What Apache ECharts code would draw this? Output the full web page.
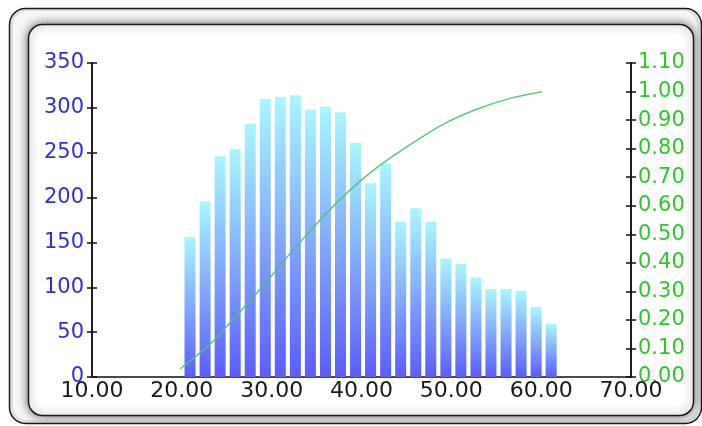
<!DOCTYPE html>
<html>
<head>
<meta charset="utf-8">
<script src="https://cdn.jsdelivr.net/npm/echarts@6/dist/echarts.min.js"></script>
<style>
html,body{margin:0;padding:0;background:#fff;}
#c{width:702px;height:426px;}
</style>
</head>
<body>
<div id="c"></div>
<script>
// Histogram bin centers (x) and counts (left axis)
var binCenters = [20.91, 22.59, 24.26, 25.94, 27.61, 29.29, 30.96, 32.64, 34.31, 35.99,
                  37.66, 39.34, 41.01, 42.69, 44.36, 46.04, 47.71, 49.39, 51.06, 52.74,
                  54.41, 56.09, 57.76, 59.44, 61.11];
var counts = [156, 196, 246, 254, 282, 310, 312, 314, 298, 301,
              295, 261, 216, 238, 173, 188, 173, 132, 126, 111,
              98, 98, 96, 78, 59];
// Cumulative curve (right axis)
var curveX = [19.80, 23.14, 25.37, 27.96, 30.19, 32.42, 35.39, 37.25, 39.84, 42.07,
              45.41, 49.12, 52.83, 56.55, 60.08];
var curveY = [0.028, 0.115, 0.190, 0.280, 0.362, 0.446, 0.550, 0.610, 0.686, 0.742,
              0.814, 0.886, 0.938, 0.976, 0.999];
// Axis ranges
var xMin = 10, xMax = 70, xStep = 10;
var yLeftMax = 350, yLeftStep = 50;
var yRightMax = 1.1, yRightStep = 0.1;

var barData = binCenters.map(function (x, i) { return [x, counts[i]]; });
var lineData = curveX.map(function (x, i) { return [x, curveY[i]]; });

var FONT = 'DejaVu Sans';
var chart = echarts.init(document.getElementById('c'), null, {renderer: 'canvas'});

function baseY(extra) {
  return Object.assign({
    type: 'value',
    splitLine: {show: false},
    axisLine: {show: true, lineStyle: {color: '#111', width: 1.5}},
    axisTick: {show: true, length: 5, lineStyle: {color: '#111', width: 1.5}}
  }, extra);
}

chart.setOption({
  animation: false,
  grid: {left: 92, right: 71, top: 63, bottom: 49, containLabel: false, outerBoundsMode: 'none'},
  graphic: [
    {type: 'rect', z: -20, silent: true,
     shape: {x: 9.5, y: 8.5, width: 692, height: 415, r: 16},
     style: {fill: '#dedede', stroke: '#1a1a1a', lineWidth: 1.5}},
    {type: 'rect', z: -19, silent: true,
     shape: {x: 13, y: 11, width: 684, height: 409, r: 14},
     style: {fill: '#f6f6f6'}},
    {type: 'rect', z: -18, silent: true,
     shape: {x: 28.5, y: 24.5, width: 665, height: 391, r: 14},
     style: {fill: '#ffffff', stroke: '#1a1a1a', lineWidth: 1.5,
             shadowBlur: 10, shadowColor: 'rgba(0,0,0,0.6)'}}
  ],
  xAxis: {
    type: 'value', min: xMin, max: xMax, interval: xStep,
    splitLine: {show: false},
    axisLine: {show: true, onZero: false, lineStyle: {color: '#111', width: 1.5}},
    axisTick: {show: false},
    axisLabel: {fontFamily: FONT, fontSize: 22, color: '#1a1a1a', margin: 3,
                formatter: function (v) { return v.toFixed(2); }}
  },
  yAxis: [
    baseY({position: 'left', min: 0, max: yLeftMax, interval: yLeftStep,
           axisLabel: {fontFamily: FONT, fontSize: 21, color: '#3030d8', margin: 8}}),
    baseY({position: 'right', min: 0, max: yRightMax, interval: yRightStep,
           axisLabel: {fontFamily: FONT, fontSize: 21, color: '#2ec82e', margin: 7,
                       formatter: function (v) { return v.toFixed(2); }}}),
    baseY({position: 'left', min: 0, max: yLeftMax, interval: yLeftStep,
           axisTick: {show: true, inside: true, length: 5, lineStyle: {color: '#111', width: 1.5}},
           axisLabel: {show: false}}),
    baseY({position: 'right', min: 0, max: yRightMax, interval: yRightStep,
           axisTick: {show: true, inside: true, length: 5, lineStyle: {color: '#111', width: 1.5}},
           axisLabel: {show: false}})
  ],
  series: [
    {
      type: 'bar', xAxisIndex: 0, yAxisIndex: 0, data: barData, barWidth: 11,
      itemStyle: {
        color: new echarts.graphic.LinearGradient(0, 0, 0, 1, [
          {offset: 0, color: '#aaf6fd'},
          {offset: 1, color: '#5c5cfb'}
        ])
      }
    },
    {
      type: 'line', xAxisIndex: 0, yAxisIndex: 1, data: lineData,
      smooth: 0.3,
      showSymbol: false, symbol: 'none',
      lineStyle: {color: '#4cc46c', width: 1.5, opacity: 0.9}
    }
  ]
});
</script>
</body>
</html>
